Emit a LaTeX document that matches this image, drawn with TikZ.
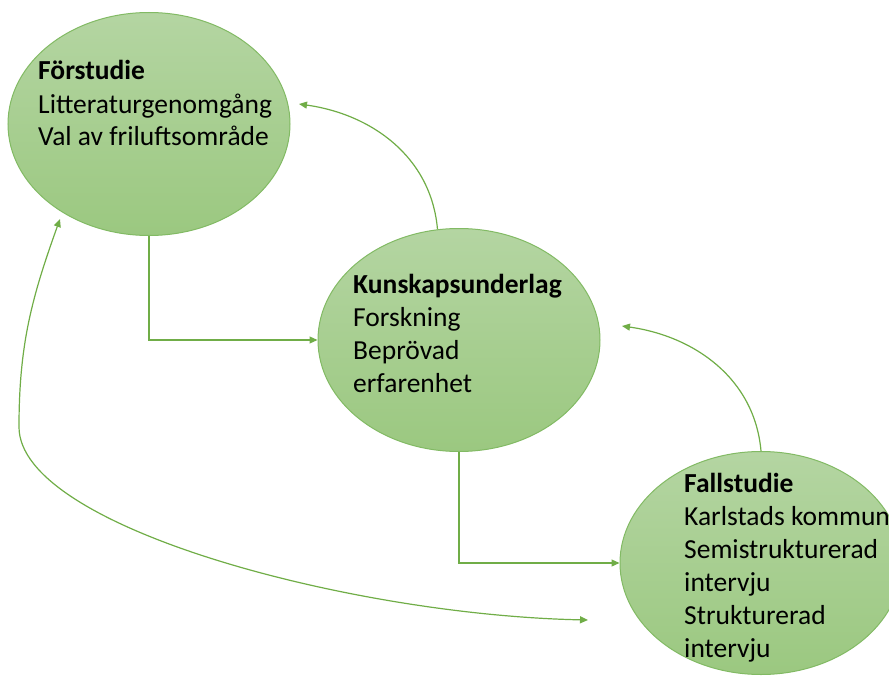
\documentclass[tikz,border=0pt]{standalone}
\usepackage{fontspec}
\setmainfont{Carlito}
\usetikzlibrary{arrows.meta,shapes.geometric}
\definecolor{lg}{RGB}{112,173,71}
\definecolor{ftop}{RGB}{180,213,162}
\definecolor{fbot}{RGB}{155,200,128}
\definecolor{edgec}{RGB}{130,186,100}
\begin{document}
\begin{tikzpicture}[x=1pt,y=1pt,
  bubble/.style={ellipse, draw=edgec, line width=1pt, top color=ftop, bottom color=fbot,
    minimum width=282pt, minimum height=223pt, inner sep=0pt},
  txt/.style={anchor=base west, inner sep=0pt, font=\fontsize{27.5}{33}\selectfont},
  conn/.style={draw=lg, line width=1.2pt, -{Triangle[length=8pt,width=7pt]}},
  dbl/.style={draw=lg, line width=1.2pt, {Triangle[length=8pt,width=7pt]}-{Triangle[length=8pt,width=7pt]}}]
\useasboundingbox (0,0) rectangle (889,-677);
\clip (0,0) rectangle (889,-677);

\node[bubble] (f) at (149,-124) {};
\node[bubble] (k) at (459,-340) {};
\node[bubble] (fa) at (761,-563) {};

\node[txt] (ft) at (38,-80) {\begin{tabular}[t]{@{}l@{}}\textbf{Förstudie}\\Litteraturgenomgång\\Val av friluftsområde\end{tabular}};
\node[txt] (kt) at (353,-293) {\begin{tabular}[t]{@{}l@{}}\textbf{Kunskapsunderlag}\\Forskning\\Beprövad\\erfarenhet\end{tabular}};
\node[txt] (fat) at (684,-492) {\begin{tabular}[t]{@{}l@{}}\textbf{Fallstudie}\\Karlstads kommun\\Semistrukturerad\\intervju\\Strukturerad\\intervju\end{tabular}};

\coordinate (t1) at (299,-104);
\coordinate (t2) at (622,-326);
\coordinate (t3) at (60,-219);
\coordinate (t4) at (588,-620);

\draw[conn] (f.south) |- (k.west);
\draw[conn] (k.south) |- (fa.west);
\draw[conn] (k.101) to[out=95,in=-8] (t1);
\draw[conn] (fa.north) to[out=95,in=-8] (t2);
\draw[dbl] (t3) .. controls (32,-297) and (19,-344) .. (19,-427)
  .. controls (19,-527) and (350,-615) .. (t4);
\end{tikzpicture}
\end{document}
